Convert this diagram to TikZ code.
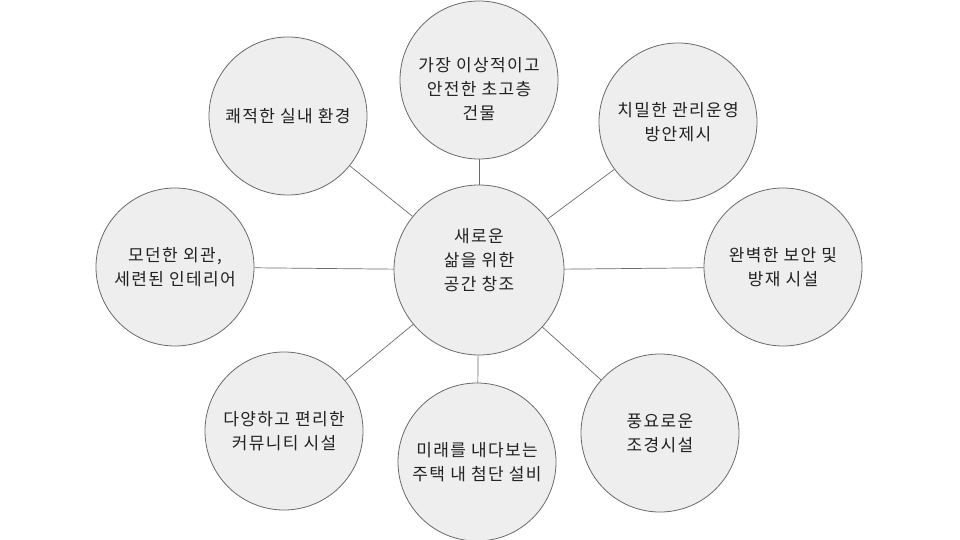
\documentclass[tikz,border=0pt]{standalone}
\usepackage{fontspec}
\setmainfont{Noto Sans CJK KR}[LetterSpace=8]
\usetikzlibrary{positioning}

\definecolor{bubblefill}{HTML}{EEEEEE}
\definecolor{bubbleline}{HTML}{6A6A6A}
\definecolor{textgray}{HTML}{222222}

\begin{document}
\begin{tikzpicture}[x=1pt,y=-1pt,
  bubble/.style={circle,draw=bubbleline,fill=bubblefill,line width=.8pt,
    inner sep=0pt,minimum size=158pt,align=center,text=textgray,
    font=\fontsize{17}{24}\selectfont},
  hub/.style={bubble,minimum size=170pt},
  caption/.style={align=center,text=textgray,inner sep=0pt,
    font=\fontsize{17}{24}\selectfont},
  spoke/.style={draw=bubbleline,line width=.7pt}]

\useasboundingbox (0,0) rectangle (960,540);

% center
\node[hub] (core) at (479,270) {};
\node[caption] (core text) at ([yshift=10pt]core.center) {새로운\\삶을 위한\\공간 창조};

% outer circles
\node[bubble] (tower)     at (479,80)  {};
\node[caption] (tower text) at ([yshift=-9pt]tower.center) {가장 이상적이고\\안전한 초고층\\건물};
\node[bubble] (comfort)   at (288,116) {쾌적한 실내 환경};
\node[bubble] (manage)    at (678,122) {치밀한 관리운영\\방안제시};
\node[bubble] (modern)    at (175,267) {모던한 외관,\\세련된 인테리어};
\node[bubble] (secure)    at (783,267) {완벽한 보안 및\\방재 시설};
\node[bubble] (community) at (284,431) {다양하고 편리한\\커뮤니티 시설};
\node[bubble] (smart)     at (477,462) {미래를 내다보는\\주택 내 첨단 설비};
\node[bubble] (garden)    at (660,433) {풍요로운\\조경시설};

% spokes
\foreach \n in {tower,comfort,manage,modern,secure,community,smart,garden}
  \path[spoke] (core) -- (\n);

\end{tikzpicture}
\end{document}
